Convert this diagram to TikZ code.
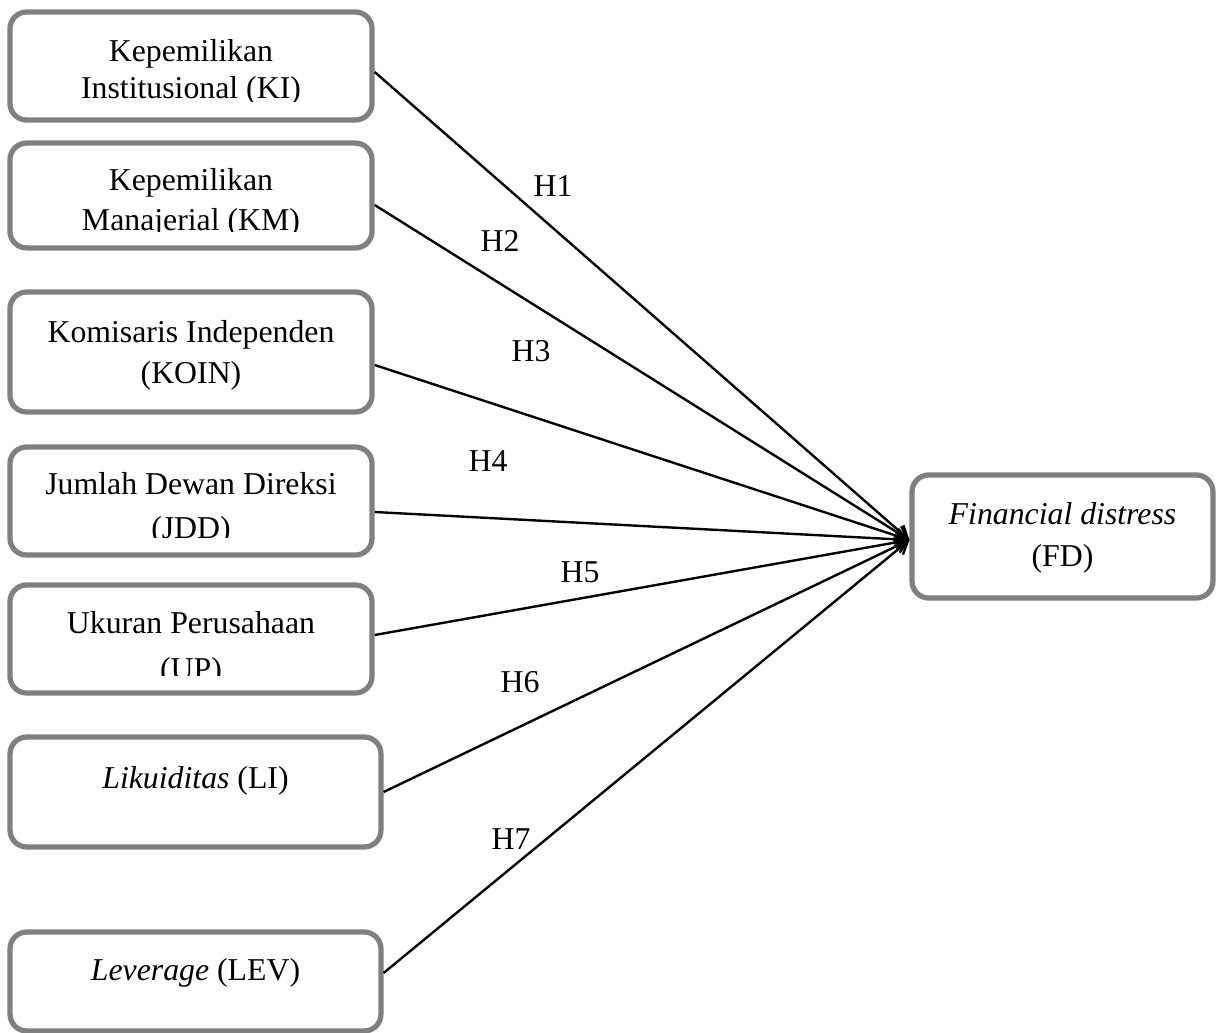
\documentclass[tikz,border=0pt]{standalone}
\usepackage{fontspec}
\setmainfont{Liberation Serif}
\usetikzlibrary{calc,arrows.meta}

\begin{document}
\begin{tikzpicture}[x=0.4184pt,y=-0.4184pt,
    varbox/.style={draw=gray, line width=2.2pt, rounded corners=7pt, inner sep=0pt, minimum width=151.5pt},
    vartext/.style={anchor=base, inner sep=0pt, font=\fontsize{13.3}{15}\selectfont},
    hlabel/.style={inner sep=0pt, font=\fontsize{13.3}{15}\selectfont},
    hyparrow/.style={line width=1pt, -{Straight Barb[length=5pt,width=6pt]}}]

        \useasboundingbox (0,0) rectangle (1217,1033);

        % Independent variables (left column)
        \node[varbox, minimum height=45.2pt] (KI) at (191,66) {};
        \node[varbox, minimum height=43.9pt] (KM) at (191,195.5) {};
        \node[varbox, minimum height=50.2pt] (KOIN) at (191,352) {};
        \node[varbox, minimum height=45.2pt] (JDD) at (191,501) {};
        \node[varbox, minimum height=45.2pt] (UP) at (191,639) {};
        \node[varbox, minimum width=155.2pt, minimum height=46pt] (LI) at (195.5,792) {};
        \node[varbox, minimum width=155.2pt, minimum height=41.4pt] (LEV) at (195.5,981.5) {};

        % Dependent variable
        \node[varbox, minimum width=125.9pt, minimum height=51.5pt] (FD) at (1062.5,536.5) {};

        % Texts (second lines are cut off at the bottom)
        \begin{scope}
            \clip (10,20) rectangle (372,101);
            \node[vartext] (tKIa) at (191,61.7) {Kepemilikan};
            \node[vartext] (tKIb) at (191,98) {Institusional (KI)};
        \end{scope}
        \begin{scope}
            \clip (10,150) rectangle (372,231);
            \node[vartext] (tKMa) at (191,190) {Kepemilikan};
            \node[vartext] (tKMb) at (191,230) {Manajerial (KM)};
        \end{scope}
        \node[vartext] (tKOINa) at (191,342) {Komisaris Independen};
        \node[vartext] (tKOINb) at (191,383) {(KOIN)};
        \begin{scope}
            \clip (10,455) rectangle (372,537);
            \node[vartext] (tJDDa) at (191,494) {Jumlah Dewan Direksi};
            \node[vartext] (tJDDb) at (191,538) {(JDD)};
        \end{scope}
        \begin{scope}
            \clip (10,592) rectangle (372,675);
            \node[vartext] (tUPa) at (191,633) {Ukuran Perusahaan};
            \node[vartext] (tUPb) at (191,679) {(UP)};
        \end{scope}
        \node[vartext] (tLI) at (195.5,788) {\textit{Likuiditas} (LI)};
        \node[vartext] (tLEV) at (195.5,980.7) {\textit{Leverage} (LEV)};
        \node[vartext] (tFDa) at (1062.5,524) {\textit{Financial distress}};
        \node[vartext] (tFDb) at (1062.5,566) {(FD)};

        % Hypotheses
        \coordinate (tip) at ($(FD.west)+(0,3.5)$);
        \draw[hyparrow] ($(KI.east)+(0,6)$) -- (tip);
        \draw[hyparrow] ($(KM.east)+(0,9.5)$) -- (tip);
        \draw[hyparrow] ($(KOIN.east)+(0,13)$) -- (tip);
        \draw[hyparrow] ($(JDD.east)+(0,11)$) -- (tip);
        \draw[hyparrow] ($(UP.east)+(0,-4)$) -- (tip);
        \draw[hyparrow] (LI.east) -- (tip);
        \draw[hyparrow] ($(LEV.east)+(0,-8.5)$) -- (tip);

        \node[hlabel] (h1) at (553,186) {H1};
        \node[hlabel] (h2) at (500,241) {H2};
        \node[hlabel] (h3) at (531,351) {H3};
        \node[hlabel] (h4) at (488,461) {H4};
        \node[hlabel] (h5) at (580,572) {H5};
        \node[hlabel] (h6) at (520,682) {H6};
        \node[hlabel] (h7) at (511,839) {H7};
    \end{tikzpicture}
\end{document}
